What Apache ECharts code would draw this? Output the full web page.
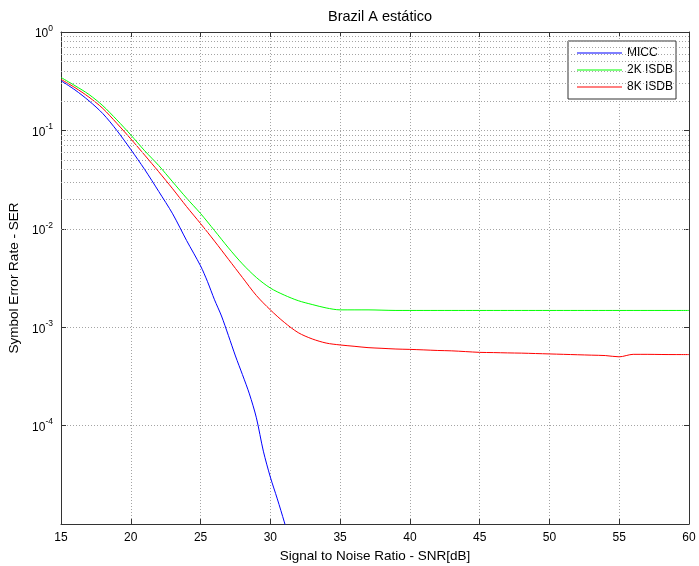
<!DOCTYPE html>
<html><head><meta charset="utf-8">
<script src="https://cdn.jsdelivr.net/npm/echarts@6/dist/echarts.min.js"></script>
<style>html,body{margin:0;padding:0;background:#fff}#c{width:699px;height:566px}</style>
</head><body><div id="c"></div>
<script>
const chartTitle = 'Brazil A estático';
const xName = 'Signal to Noise Ratio - SNR[dB]';
const yName = 'Symbol Error Rate - SER';
const seriesNames = ['MICC', '2K ISDB', '8K ISDB'];

const snrMicc = [15,16,17,18,19,20,21,22,23,24,25,25.5,26,26.5,27,27.5,28,28.5,29,29.5,30,30.5,31,31.5];
const serMicc = [0.32,0.258,0.2,0.148,0.1,0.064,0.04,0.024,0.0142,0.0076,0.0042,0.0029,0.0019,0.0013,0.00082,0.00051,0.00033,0.00021,0.00012,0.000055,0.00003,0.000018,0.0000105,0.000006];

const snrIsdb = [15,16,17,18,19,20,21,22,23,24,25,26,27,28,29,30,31,32,33,34,35,36,37,38,39,40,41,42,43,44,45,46,47,48,49,50,51,52,53,54,55,56,57,58,59,60];
const ser2k = [0.345,0.285,0.232,0.178,0.128,0.09,0.062,0.044,0.030,0.0205,0.0143,0.0096,0.0064,0.0044,0.0032,0.0025,0.00212,0.00186,0.0017,0.00157,0.0015,0.0015,0.0015,0.00149,0.00148,
  0.00148,0.00148,0.00148,0.00148,0.00148,0.00148,0.00148,0.00148,0.00148,0.00148,0.00148,0.00148,0.00148,0.00148,0.00148,0.00148,0.00148,0.00148,0.00148,0.00148,0.00148];
const ser8k = [0.33,0.272,0.218,0.167,0.118,0.082,0.056,0.038,0.0255,0.0168,0.0113,0.0075,0.0049,0.0032,0.0021,0.0015,0.00112,0.00088,0.00076,0.00069,0.00066,0.00064,0.00062,0.00061,0.0006,
  0.000595,0.000588,0.00058,0.000575,0.000565,0.000555,0.000552,0.000548,0.000545,0.00054,0.000535,0.00053,0.000525,0.00052,0.000515,0.0005,0.00053,0.00053,0.000528,0.000527,0.000527];

const xTicks = [15,20,25,30,35,40,45,50,55,60];
const yDecades = [1e-5,1e-4,1e-3,1e-2,1e-1,1];

// minor grid levels (2..9 x each decade)
const minorLevels = [];
for (let d = 0; d < yDecades.length - 1; d++) {
  for (let k = 2; k <= 9; k++) minorLevels.push(+(k * yDecades[d]).toPrecision(3));
}

const pairs = (xs, ys) => xs.map((x, i) => [x, ys[i]]);
const FONT = 'Liberation Sans, Arial, sans-serif';
const gridStyle = { color: '#a4a4a4', width: 1, type: [1, 2] };

const chart = echarts.init(document.getElementById('c'), null, { renderer: 'canvas' });
chart.setOption({
  animation: false,
  backgroundColor: '#fff',
  title: {
    text: chartTitle, left: 375, top: 4, textAlign: 'center',
    textStyle: { fontFamily: FONT, fontSize: 14.5, fontWeight: 'normal', color: '#000' }
  },
  grid: { left: 61, right: 10, top: 32, bottom: 42, containLabel: false, outerBoundsMode: 'none' },
  legend: {
    orient: 'vertical', left: 568, top: 41,
    padding: [5, 3, 5, 9], itemGap: 3, itemWidth: 45, itemHeight: 1,
    icon: 'rect',
    backgroundColor: '#fff', borderColor: '#333', borderWidth: 1, borderRadius: 0,
    textStyle: { fontFamily: FONT, fontSize: 12, color: '#000', lineHeight: 14 },
    data: seriesNames
  },
  xAxis: [{
    type: 'value', min: 15, max: 60, interval: 5,
    name: xName, nameLocation: 'middle', nameGap: 22,
    nameTextStyle: { fontFamily: FONT, fontSize: 13.5, color: '#000' },
    axisLine: { lineStyle: { color: '#333', width: 1 } },
    axisTick: { inside: true, length: 5, lineStyle: { color: '#333' } },
    axisLabel: { fontFamily: FONT, fontSize: 12, color: '#000', margin: 8 },
    splitLine: { show: true, lineStyle: gridStyle }
  }, {
    type: 'value', min: 15, max: 60, interval: 5, position: 'top',
    axisLine: { show: true, lineStyle: { color: '#333', width: 1 } },
    axisTick: { inside: true, length: 5, lineStyle: { color: '#333' } },
    axisLabel: { show: false }, splitLine: { show: false }
  }],
  yAxis: [{
    type: 'log', logBase: 10, min: 1e-5, max: 1,
    name: yName, nameLocation: 'middle', nameGap: 33,
    nameTextStyle: { fontFamily: FONT, fontSize: 13.5, color: '#000' },
    axisLine: { show: true, lineStyle: { color: '#333', width: 1 } },
    axisTick: { inside: true, length: 5, lineStyle: { color: '#333' } },
    axisLabel: {
      margin: 8,
      formatter: function (v) {
        const e = Math.round(Math.log10(v));
        if (e <= -5) return '';
        return '{b|10}{s|' + e + '}';
      },
      rich: {
        b: { fontFamily: FONT, fontSize: 12, color: '#000', verticalAlign: 'bottom' },
        s: { fontFamily: FONT, fontSize: 8.5, color: '#000', verticalAlign: 'bottom', padding: [0, 0, 7, 0] }
      }
    },
    splitLine: { show: true, lineStyle: gridStyle }
  }, {
    type: 'log', logBase: 10, min: 1e-5, max: 1, position: 'right',
    axisLine: { show: true, lineStyle: { color: '#333', width: 1 } },
    axisTick: { inside: true, length: 5, lineStyle: { color: '#333' } },
    axisLabel: { show: false }, splitLine: { show: false }
  }],
  series: [{
    name: seriesNames[0], type: 'line', data: pairs(snrMicc, serMicc),
    symbol: 'none', smooth: 0.3, clip: true, color: '#0000ff', lineStyle: { width: 1 }, z: 5,
    markLine: {
      silent: true, symbol: ['none', 'none'], label: { show: false }, animation: false,
      lineStyle: gridStyle, emphasis: { disabled: true },
      data: minorLevels.map(v => ({ yAxis: v }))
    }
  }, {
    name: seriesNames[1], type: 'line', data: pairs(snrIsdb, ser2k),
    symbol: 'none', smooth: 0.3, clip: true, color: '#00ff00', lineStyle: { width: 1 }, z: 3
  }, {
    name: seriesNames[2], type: 'line', data: pairs(snrIsdb, ser8k),
    symbol: 'none', smooth: 0.3, clip: true, color: '#ff0000', lineStyle: { width: 1 }, z: 4
  }]
});
</script></body></html>
